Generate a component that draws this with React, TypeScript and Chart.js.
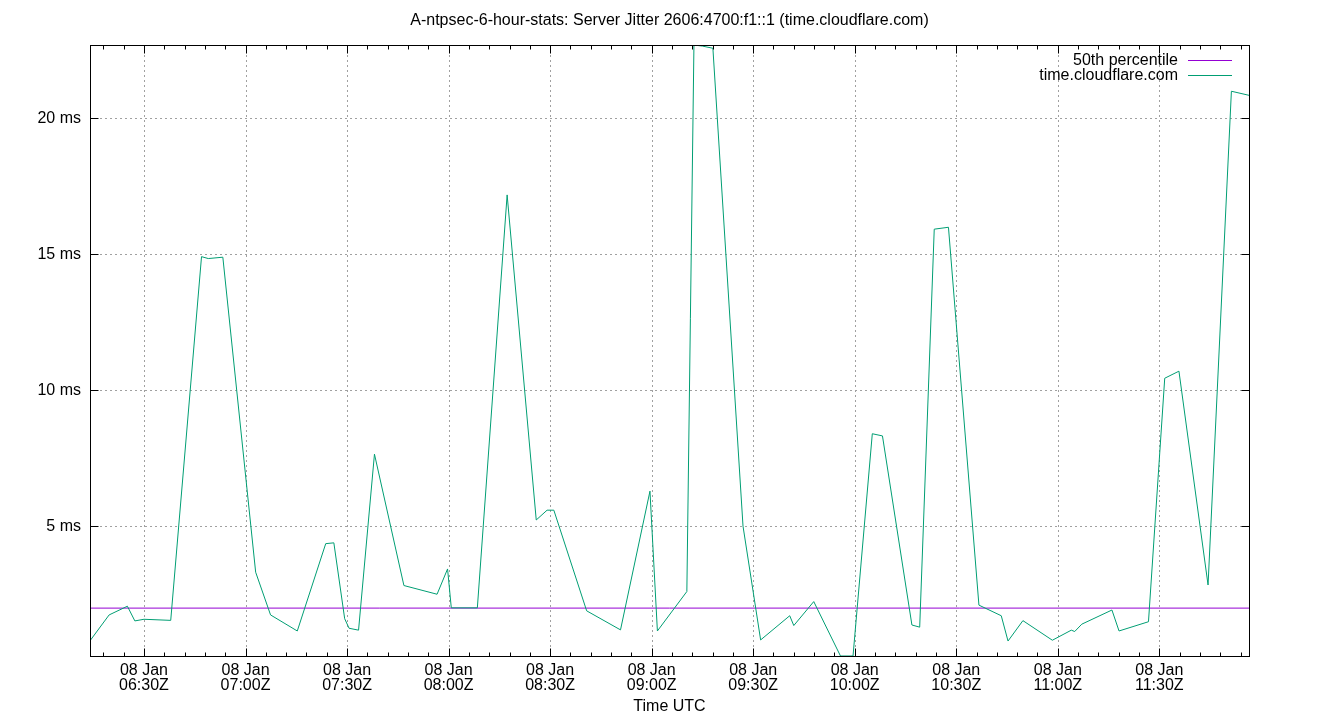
import React, { useEffect, useRef } from "react";
import { Chart, registerables } from "chart.js";

Chart.register(...registerables);

// Time in minutes since 00:00 UTC on 08 Jan
const times = [374.05, 379.7, 385.1, 387.3, 390.0, 397.9, 407.0, 409.0, 413.3, 423.0, 427.4, 435.3, 443.7, 446.1, 449.3, 450.6, 453.4, 458.1, 466.8, 476.6, 479.7, 480.8, 488.5, 497.3, 505.9, 509.1, 511.1, 520.8, 530.8, 539.5, 541.7, 550.4, 552.5, 555.0, 558.1, 567.0, 572.2, 580.8, 582.0, 587.9, 595.8, 599.5, 605.2, 608.2, 616.9, 619.2, 623.5, 627.7, 636.7, 643.3, 645.3, 649.7, 658.4, 664.0, 665.0, 667.1, 676.0, 678.1, 686.8, 691.6, 695.8, 704.4, 711.3, 716.5];
// Server jitter, ms
const jitter = [0.79, 1.74, 2.06, 1.52, 1.58, 1.54, 14.91, 14.84, 14.89, 3.31, 1.74, 1.15, 4.36, 4.39, 1.6, 1.25, 1.18, 7.65, 2.82, 2.5, 3.43, 2.0, 2.0, 17.18, 5.23, 5.59, 5.59, 1.89, 1.19, 6.29, 1.15, 2.6, 22.69, 22.65, 22.57, 5.0, 0.82, 1.71, 1.35, 2.23, 0.23, 0.23, 8.4, 8.32, 1.37, 1.29, 15.92, 15.99, 2.1, 1.71, 0.78, 1.53, 0.81, 1.18, 1.13, 1.4, 1.92, 1.15, 1.49, 10.44, 10.7, 2.84, 20.99, 20.84];
const percentile50 = 1.99;
const yTicks = [5, 10, 15, 20];
const xMajorStep = 30; // minutes
const xMinorStep = 6; // minutes
const dayLabel = "08 Jan";
const titleText = "A-ntpsec-6-hour-stats: Server Jitter 2606:4700:f1::1 (time.cloudflare.com)";
const xTitle = "Time UTC";
const seriesLabels = ["50th percentile", "time.cloudflare.com"];
const colors = ["#9400d3", "#009e73"];

const FONT = "'Liberation Sans', Arial, sans-serif";

function fmtTime(m: number): string {
  const h = Math.floor(m / 60);
  const mm = Math.round(m - h * 60);
  return `${String(h).padStart(2, "0")}:${String(mm).padStart(2, "0")}Z`;
}

const gnuplotPlugin = {
  id: "gnuplotDecor",
  beforeDatasetsDraw(chart: any) {
    const { ctx, chartArea: a, scales } = chart;
    const xs = scales.x, ys = scales.y;
    ctx.save();
    ctx.strokeStyle = "#a0a0a0";
    ctx.lineWidth = 1;
    ctx.setLineDash([2, 3]);
    const start = Math.ceil(xs.min / xMajorStep) * xMajorStep;
    for (let v = start; v <= xs.max; v += xMajorStep) {
      const px = Math.round(xs.getPixelForValue(v)) + 0.5;
      ctx.beginPath();
      ctx.moveTo(px, a.top);
      ctx.lineTo(px, a.bottom);
      ctx.stroke();
    }
    for (const v of yTicks) {
      const py = Math.round(ys.getPixelForValue(v)) + 0.5;
      ctx.beginPath();
      ctx.moveTo(a.left, py);
      ctx.lineTo(a.right, py);
      ctx.stroke();
    }
    ctx.restore();
  },
  afterDatasetsDraw(chart: any) {
    const { ctx, chartArea: a, scales } = chart;
    const xs = scales.x, ys = scales.y;
    ctx.save();
    ctx.strokeStyle = "#000";
    ctx.lineWidth = 1;
    ctx.setLineDash([]);
    const L = Math.round(a.left) + 0.5, R = Math.round(a.right) + 0.5;
    const T = Math.round(a.top) + 0.5, B = Math.round(a.bottom) + 0.5;
    ctx.strokeRect(L, T, R - L, B - T);
    const start = Math.ceil(xs.min / xMinorStep) * xMinorStep;
    ctx.beginPath();
    for (let v = start; v <= xs.max; v += xMinorStep) {
      const px = Math.round(xs.getPixelForValue(v)) + 0.5;
      const len = v % xMajorStep === 0 ? 8 : 4;
      ctx.moveTo(px, B);
      ctx.lineTo(px, B - len);
      ctx.moveTo(px, T);
      ctx.lineTo(px, T + len);
    }
    for (const v of yTicks) {
      const py = Math.round(ys.getPixelForValue(v)) + 0.5;
      ctx.moveTo(L, py);
      ctx.lineTo(L + 8, py);
      ctx.moveTo(R, py);
      ctx.lineTo(R - 8, py);
    }
    ctx.stroke();

    // title, centred over the plot
    ctx.fillStyle = "#000";
    ctx.font = `16px ${FONT}`;
    ctx.textAlign = "center";
    ctx.textBaseline = "middle";
    ctx.fillText(titleText, (a.left + a.right) / 2, 21);

    // legend (gnuplot style: text right-aligned, sample line to the right)
    ctx.textAlign = "right";
    const order = [1, 0];
    order.forEach((di, i) => {
      const ds = chart.data.datasets[di];
      const y = 60 + i * 15;
      ctx.fillStyle = "#000";
      ctx.fillText(ds.label, 1178, y + 0.5);
      ctx.strokeStyle = ds.borderColor;
      ctx.beginPath();
      ctx.moveTo(1188, y + 0.5);
      ctx.lineTo(1232, y + 0.5);
      ctx.stroke();
    });
    ctx.restore();
  },
};

export default function App() {
  const ref = useRef<HTMLCanvasElement | null>(null);
  useEffect(() => {
    if (!ref.current) return;
    const xMin = times[0];
    const xMax = times[times.length - 1];
    const yMin = Math.min(...jitter);
    const yMax = Math.max(...jitter);
    Chart.defaults.font.family = FONT;
    Chart.defaults.color = "#000";
    const chart = new Chart(ref.current, {
      type: "line",
      data: {
        datasets: [
          {
            label: seriesLabels[1],
            data: times.map((t, i) => ({ x: t, y: jitter[i] })),
            borderColor: colors[1],
            borderWidth: 1,
            pointRadius: 0,
            tension: 0,
          },
          {
            label: seriesLabels[0],
            data: [
              { x: xMin, y: percentile50 },
              { x: xMax, y: percentile50 },
            ],
            borderColor: colors[0],
            borderWidth: 1,
            pointRadius: 0,
            tension: 0,
          },
        ],
      },
      options: {
        animation: false,
        responsive: false,
        events: [],
        layout: { padding: { left: 0, right: 91, top: 45, bottom: 0 } },
        plugins: {
          legend: { display: false },
          tooltip: { enabled: false },
          title: { display: false },
        },
        scales: {
          x: {
            type: "linear",
            min: xMin,
            max: xMax,
            grid: { display: false, drawTicks: false },
            border: { display: false },
            afterBuildTicks: (scale: any) => {
              const ticks = [];
              const s = Math.ceil(xMin / xMajorStep) * xMajorStep;
              for (let v = s; v <= xMax; v += xMajorStep) ticks.push({ value: v });
              scale.ticks = ticks;
            },
            afterFit: (scale: any) => {
              scale.height = 64;
            },
            ticks: {
              autoSkip: false,
              maxRotation: 0,
              minRotation: 0,
              padding: 7,
              color: "#000",
              font: { size: 16, family: FONT, lineHeight: 0.95 },
              callback: (v: any) => [dayLabel, fmtTime(Number(v))],
            },
            title: {
              display: true,
              text: xTitle,
              color: "#000",
              font: { size: 16, family: FONT, lineHeight: 1.2 },
              padding: { top: 0, bottom: 4 },
            },
          },
          y: {
            type: "linear",
            min: yMin,
            max: yMax,
            grid: { display: false, drawTicks: false },
            border: { display: false },
            afterBuildTicks: (scale: any) => {
              scale.ticks = yTicks.map((v) => ({ value: v }));
            },
            afterFit: (scale: any) => {
              scale.width = 90;
            },
            ticks: {
              padding: 9,
              color: "#000",
              font: { size: 16, family: FONT },
              callback: (v: any) => `${v} ms`,
            },
          },
        },
      },
      plugins: [gnuplotPlugin],
    });
    return () => chart.destroy();
  }, []);
  return (
    <canvas
      ref={ref}
      width={1340}
      height={720}
      style={{ position: "absolute", left: 0, top: 0, display: "block", width: 1340, height: 720, background: "#fff" }}
    />
  );
}
